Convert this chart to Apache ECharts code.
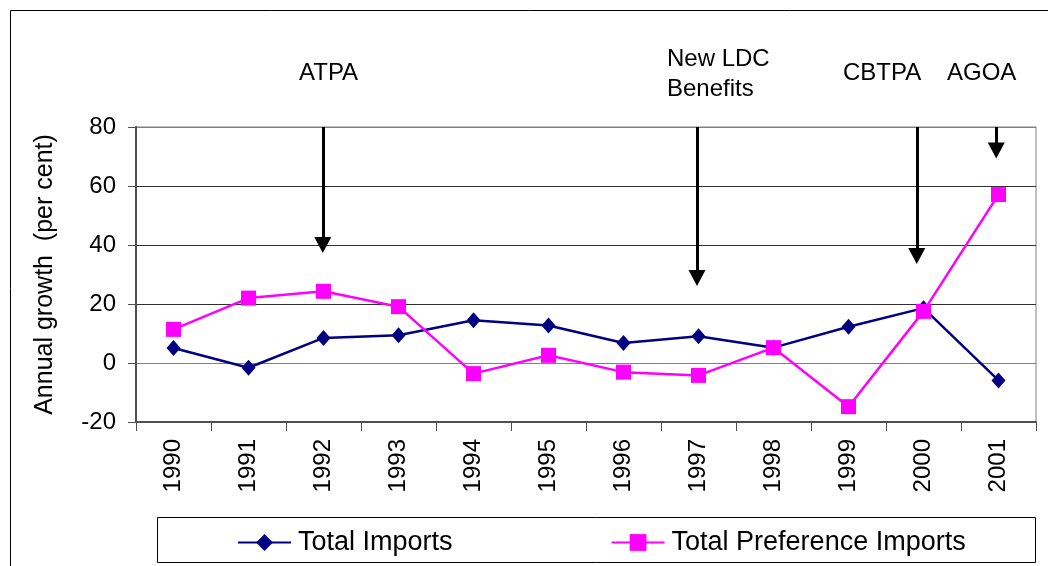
<!DOCTYPE html>
<html>
<head>
<meta charset="utf-8">
<script src="https://cdn.jsdelivr.net/npm/echarts@6/dist/echarts.min.js"></script>
<style>html,body{margin:0;padding:0;background:#fff;}#c{width:1048px;height:566px;}</style>
</head>
<body>
<div id="c"></div>
<script>
var years = ['1990','1991','1992','1993','1994','1995','1996','1997','1998','1999','2000','2001'];
var totalImports = [5.1, -1.6, 8.5, 9.4, 14.5, 12.7, 6.8, 9.1, 5.2, 12.3, 18.6, -5.9];
var preferenceImports = [11.4, 22.0, 24.3, 19.1, -3.6, 2.6, -3.1, -4.2, 5.2, -14.8, 17.5, 57.1];
var yTicks = [-20, 0, 20, 40, 60, 80];
// annotation arrows: position on a 0..12 category scale, start and end values
var arrowPos = [2.49, 7.48, 10.41, 11.47];
var arrowStart = [80, 80, 80, 80];
var arrowEnd = [40.0, 28.8, 36.3, 72.0];
var annotations = ['ATPA', 'New LDC\nBenefits', 'CBTPA', 'AGOA'];

var FONT = 'Liberation Sans, Arial, sans-serif';
var chart = echarts.init(document.getElementById('c'));

var arrowLines = arrowPos.map(function (p, i) {
  return [{ coord: [p, arrowStart[i]], symbol: 'none' }, { coord: [p, arrowEnd[i]], symbol: 'triangle' }];
});

var option = {
  animation: false,
  backgroundColor: '#fff',
  grid: { left: 136, right: 12, top: 127, bottom: 144, show: true, borderColor: '#808080', borderWidth: 1, backgroundColor: 'transparent' },
  xAxis: [{
    type: 'category', data: years, boundaryGap: true,
    axisLine: { onZero: false, lineStyle: { color: '#505050', width: 2 } },
    axisTick: { show: true, length: 9, lineStyle: { color: '#505050', width: 1 } },
    axisLabel: { rotate: 90, margin: 17, fontSize: 24, color: '#000', fontFamily: FONT },
    splitLine: { show: false }
  }, {
    type: 'value', min: 0, max: 12, show: false
  }],
  yAxis: {
    type: 'value', min: yTicks[0], max: yTicks[yTicks.length - 1], interval: 20,
    name: 'Annual growth  (per cent)', nameLocation: 'middle', nameGap: 78,
    nameTextStyle: { fontSize: 25, color: '#000', fontFamily: FONT },
    axisLine: { show: true, lineStyle: { color: '#505050', width: 2 } },
    axisTick: { show: true, length: 8, lineStyle: { color: '#505050', width: 1 } },
    axisLabel: { margin: 20, fontSize: 24, color: '#000', fontFamily: FONT },
    splitLine: { show: true, lineStyle: { color: ['#808080', '#808080', '#303030', '#303030', '#303030', '#808080'], width: 1 } }
  },
  legend: {
    data: ['Total Imports', 'Total Preference Imports'],
    left: 237, top: 529, padding: 0, itemWidth: 53, itemHeight: 21, itemGap: 158,
    textStyle: { fontSize: 27, color: '#000', fontFamily: FONT, padding: [0, 0, 0, 2] }
  },
  graphic: [
    { type: 'rect', shape: { x: 10.5, y: 10.5, width: 1200, height: 700 }, style: { fill: 'none', stroke: '#000', lineWidth: 1 }, z: -10 },
    { type: 'rect', shape: { x: 157.5, y: 517.5, width: 878, height: 45 }, style: { fill: 'none', stroke: '#000', lineWidth: 1 } },
    { type: 'text', left: 299, top: 61, style: { text: annotations[0], fill: '#000', font: '24px ' + FONT } },
    { type: 'text', left: 667, top: 44, style: { text: annotations[1], fill: '#000', font: '24px ' + FONT, lineHeight: 30 } },
    { type: 'text', left: 843, top: 61, style: { text: annotations[2], fill: '#000', font: '24px ' + FONT } },
    { type: 'text', left: 947, top: 61, style: { text: annotations[3], fill: '#000', font: '24px ' + FONT } }
  ],
  series: [{
    name: 'Total Imports', type: 'line', data: totalImports,
    symbol: 'diamond', symbolSize: [14, 16],
    itemStyle: { color: '#000080' }, lineStyle: { color: '#000080', width: 2.5 }, z: 3
  }, {
    name: 'Total Preference Imports', type: 'line', data: preferenceImports,
    symbol: 'rect', symbolSize: 15,
    itemStyle: { color: '#ff00ff' }, lineStyle: { color: '#ff00ff', width: 2.5 }, z: 4
  }, {
    name: 'arrows', type: 'line', xAxisIndex: 1, data: [], silent: true,
    markLine: {
      silent: true, animation: false,
      symbolSize: [17, 16],
      lineStyle: { color: '#000', width: 3, type: 'solid' },
      label: { show: false },
      data: arrowLines
    }
  }]
};
chart.setOption(option);
</script>
</body>
</html>
